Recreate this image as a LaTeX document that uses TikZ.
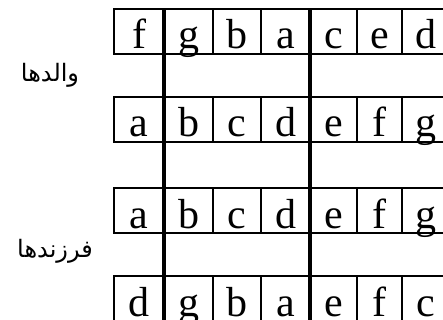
\documentclass[tikz,border=0pt]{standalone}
\usepackage{fontspec}
\newfontfamily\arabicfont[Script=Arabic]{DejaVu Sans}
\newfontfamily\cellfont{Liberation Serif}
\TeXXeTstate=1
\tikzset{
  cell/.style={draw, line width=1.6pt, inner sep=0pt, outer sep=0pt,
    minimum height=45pt, text height=36pt, text depth=1pt,
    font=\cellfont\fontsize{42}{46}\selectfont},
  cut/.style={line width=3.8pt},
  side/.style={font=\arabicfont\fontsize{24}{28}\selectfont, inner sep=0pt}
}
\begin{document}
\begin{tikzpicture}[x=1pt,y=-1pt]
\useasboundingbox (0,0) rectangle (443,320);
\clip (0,0) rectangle (443,320);
\fill[white] (0,0) rectangle (443,320);
\foreach \row/\top/\letters in {1/9/{f,g,b,a,c,e,d}, 2/97/{a,b,c,d,e,f,g}, 3/188/{a,b,c,d,e,f,g}, 4/276/{d,g,b,a,e,f,c}} {
  \foreach \ch [count=\c] in \letters {
    \pgfmathsetmacro\L{{114,164,213,261,310,357,402,449}[\c-1]}
    \pgfmathsetmacro\R{{114,164,213,261,310,357,402,449}[\c]}
    \pgfmathsetmacro\W{\R-\L}
    \node[cell, minimum width=\W pt] (r\row c\c) at ({(\L+\R)/2},\top+22.5) {\ch};
  }
}
\draw[cut] (r1c2.north west) -- (r4c2.south west);
\draw[cut] (r1c5.north west) -- (r4c5.south west);
\node[side] (parents) at (50,75) {\beginR والدها\endR};
\node[side] (children) at (55,251) {\beginR فرزندها\endR};
\end{tikzpicture}
\end{document}
